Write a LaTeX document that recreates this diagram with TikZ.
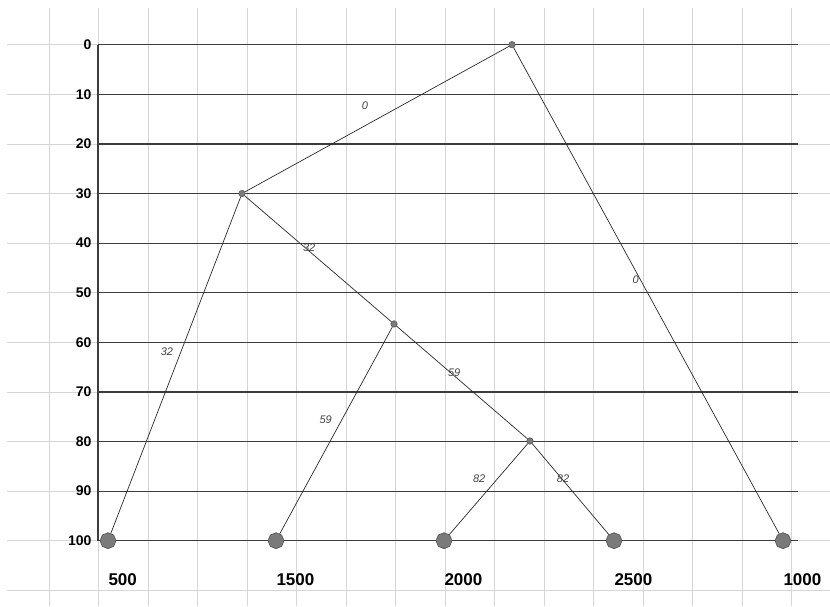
\documentclass[tikz,border=0pt]{standalone}
\usepackage{fontspec}
\setmainfont{Liberation Sans}
\usetikzlibrary{shapes.geometric}
\definecolor{gridline}{HTML}{D6D6D6}
\definecolor{levelline}{HTML}{3C3C3C}
\definecolor{leaffill}{HTML}{7A7A7A}
\definecolor{leafborder}{HTML}{505050}
\definecolor{edgeline}{HTML}{2A2A2A}

\begin{document}
\begin{tikzpicture}[
    x=1pt, y=-4.96pt,
    font=\bfseries,
    leaf/.style={regular polygon, regular polygon sides=8, shape border rotate=22.5, draw=leafborder, fill=leaffill, inner sep=0pt, minimum size=16pt, line width=0.6pt},
    merge/.style={circle, draw=leafborder, fill=leaffill, inner sep=0pt, minimum size=6.5pt, line width=0.5pt},
    branch/.style={draw=edgeline, line width=0.7pt},
    dist/.style={font=\fontsize{11}{11}\selectfont\mdseries\itshape, text=black!75, inner sep=1pt},
    level/.style={draw=levelline, line width=1.2pt}
]
    \useasboundingbox (0,-9.012) rectangle (830,113.17);

    % 1. Light background grid
    \foreach \h in {0,10,...,110}
        \draw[gridline, line width=0.8pt] (7,\h) -- (830,\h);
    \foreach \j in {0,...,15}
        \draw[gridline, line width=0.8pt] ({49+49.5*\j},-7.4) -- ({49+49.5*\j},113.17);

    % 2. Height levels and scale
    \draw[level] (98,0) -- (98,100);
    \foreach \h in {0,10,...,100} {
        \draw[level] (98,\h) -- (798,\h);
        \node[anchor=east, font=\fontsize{14}{14}\selectfont\bfseries] (tick\h) at (95,\h) {\h};
    }

    % Components
    % Leaves
    \node[leaf] (l500)  at (108,100) {};
    \node[leaf] (l1500) at (276,100) {};
    \node[leaf] (l2000) at (444,100) {};
    \node[leaf] (l2500) at (614,100) {};
    \node[leaf] (l1000) at (783,100) {};

    \node[anchor=west, font=\fontsize{17}{17}\selectfont\bfseries] (t500)  at (105,107.9) {500};
    \node[anchor=west, font=\fontsize{17}{17}\selectfont\bfseries] (t1500) at (273,107.9) {1500};
    \node[anchor=west, font=\fontsize{17}{17}\selectfont\bfseries] (t2000) at (441,107.9) {2000};
    \node[anchor=west, font=\fontsize{17}{17}\selectfont\bfseries] (t2500) at (611,107.9) {2500};
    \node[anchor=west, font=\fontsize{17}{17}\selectfont\bfseries] (t1000) at (780,107.9) {1000};

    % Merge points
    \node[merge] (root) at (512,0) {};
    \node[merge] (m30)  at (242,30) {};
    \node[merge] (m56)  at (394,56.3) {};
    \node[merge] (m80)  at (530,79.9) {};

    % Branches & distances
    \draw[branch] (root) -- (m30) node[dist, pos=0.5, xshift=-12pt, yshift=13pt] {0};
    \draw[branch] (root) -- (l1000) node[dist, pos=0.478, xshift=-5pt] {0};
    \draw[branch] (m30) -- (l500) node[dist, pos=0.46, xshift=-14pt] {32};
    \draw[branch] (m30) -- (m56) node[dist, pos=0.44, yshift=3pt] {32};
    \draw[branch] (m56) -- (l1500) node[dist, pos=0.45, xshift=-16pt] {59};
    \draw[branch] (m56) -- (m80) node[dist, pos=0.44, yshift=3pt] {59};
    \draw[branch] (m80) -- (l2000) node[dist, pos=0.39, xshift=-18pt] {82};
    \draw[branch] (m80) -- (l2500) node[dist, pos=0.39, xshift=1pt] {82};

\end{tikzpicture}
\end{document}
